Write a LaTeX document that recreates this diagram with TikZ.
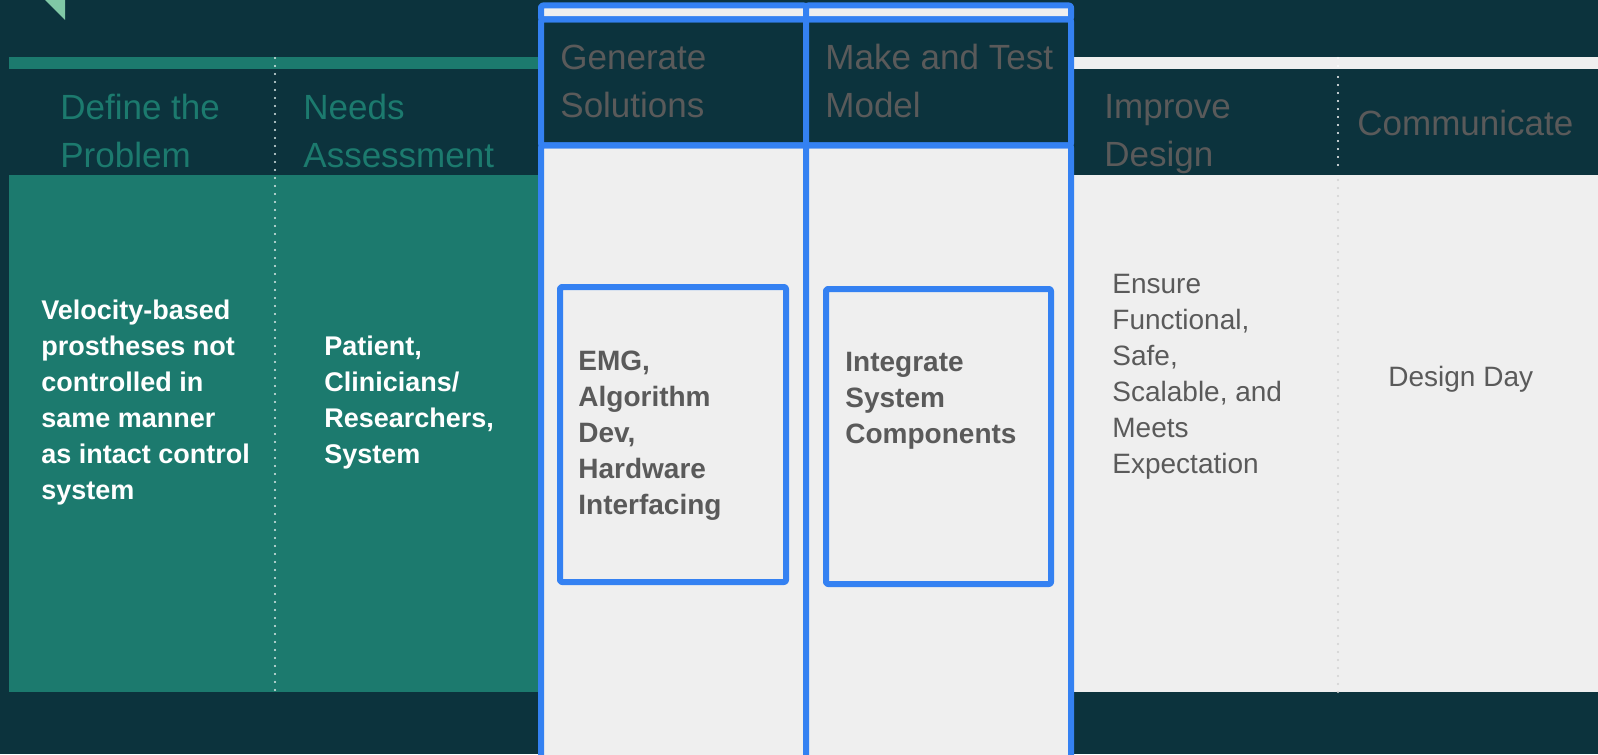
\documentclass[tikz,border=0pt]{standalone}
\usepackage{fontspec}
\setmainfont{Liberation Sans}
\definecolor{slidedark}{RGB}{12,51,61}
\definecolor{slideteal}{RGB}{28,122,110}
\definecolor{slidegray}{RGB}{239,239,239}
\definecolor{slideblue}{RGB}{52,129,242}
\definecolor{slidetext}{RGB}{90,90,90}
\definecolor{slidemint}{RGB}{128,200,166}
\tikzset{
  headtxt/.style={anchor=base west,inner sep=0pt,align=left,font=\fontsize{17.5}{24}\selectfont},
  bodytxt/.style={anchor=base west,inner sep=0pt,align=left,font=\fontsize{14}{18}\selectfont},
  leadtxt/.style={anchor=base west,inner sep=0pt,align=left,text=white,font=\fontsize{13.5}{18}\selectfont\bfseries},
  bluebox/.style={draw=slideblue,line width=3pt,rounded corners=1pt},
  dotline/.style={line width=1.1pt,line cap=round,dash pattern=on 0pt off 4pt}
}
\begin{document}
\begin{tikzpicture}[line join=round,x=0.5pt,y=-0.5pt]
\useasboundingbox (0,0) rectangle (1598,754);
\clip (0,0) rectangle (1598,754);
\fill[slidedark] (0,0) rectangle (1598,754);
\fill[slidemint] (45,0) -- (65,0) -- (65,20) -- cycle;
% stripes and bands
\fill[slideteal] (9,57) rectangle (538,69);
\fill[slidegray] (1072,57) rectangle (1598,69);
\fill[slideteal] (9,175) rectangle (538,692);
\fill[slidegray] (1072,175) rectangle (1598,692);
\draw[dotline,white!85!slideteal] (275,58) -- (275,692);
\draw[dotline,white!80!slidegray] (1338,58) -- (1338,69);
\draw[dotline,white] (1338,77) -- (1338,172);
\draw[dotline,black!18] (1338,180) -- (1338,692);
% highlighted columns
\foreach \xa/\xb in {541/806,806/1071}{
  \fill[slidegray] (\xa,5.5) rectangle (\xb,19.5);
  \fill[slidedark] (\xa,19.5) rectangle (\xb,145.5);
  \fill[slidegray] (\xa,145.5) rectangle (\xb,760);
  \draw[bluebox] (\xa,5.5) rectangle (\xb,19.5);
  \draw[bluebox] (\xa,19.5) rectangle (\xb,145.5);
  \draw[bluebox] (\xa,145.5) rectangle (\xb,760);
}
\draw[bluebox] (560,287) rectangle (786,582);
\draw[bluebox] (826,289) rectangle (1051,584);
% headers (base = last line)
\node[headtxt,text=slideteal] (hdDefine) at (60,168) {Define the\\Problem};
\node[headtxt,text=slideteal] (hdNeeds) at (303,168) {Needs\\Assessment};
\node[headtxt,text=slidetext] (hdGenerate) at (560,118) {Generate\\Solutions};
\node[headtxt,text=slidetext] (hdMake) at (825,118) {Make and Test\\Model};
\node[headtxt,text=slidetext] (hdImprove) at (1104,167) {Improve\\Design};
\node[headtxt,text=slidetext] (hdComm) at (1357,136) {Communicate};
% cell texts
\node[leadtxt] (txProblem) at (41,499) {Velocity-based\\prostheses not\\controlled in\\same manner\\as intact control\\system};
\node[leadtxt] (txNeeds) at (324,463) {Patient,\\Clinicians/\\Researchers,\\System};
\node[bodytxt,text=slidetext,font=\fontsize{14}{18}\selectfont\bfseries] (txSolutions) at (578,514) {EMG,\\Algorithm\\Dev,\\Hardware\\Interfacing};
\node[bodytxt,text=slidetext,font=\fontsize{14}{18}\selectfont\bfseries] (txModel) at (845,443) {Integrate\\System\\Components};
\node[bodytxt,text=slidetext] (txImprove) at (1112,473) {Ensure\\Functional,\\Safe,\\Scalable, and\\Meets\\Expectation};
\node[bodytxt,text=slidetext] (txDay) at (1388,386) {Design Day};
\end{tikzpicture}
\end{document}
